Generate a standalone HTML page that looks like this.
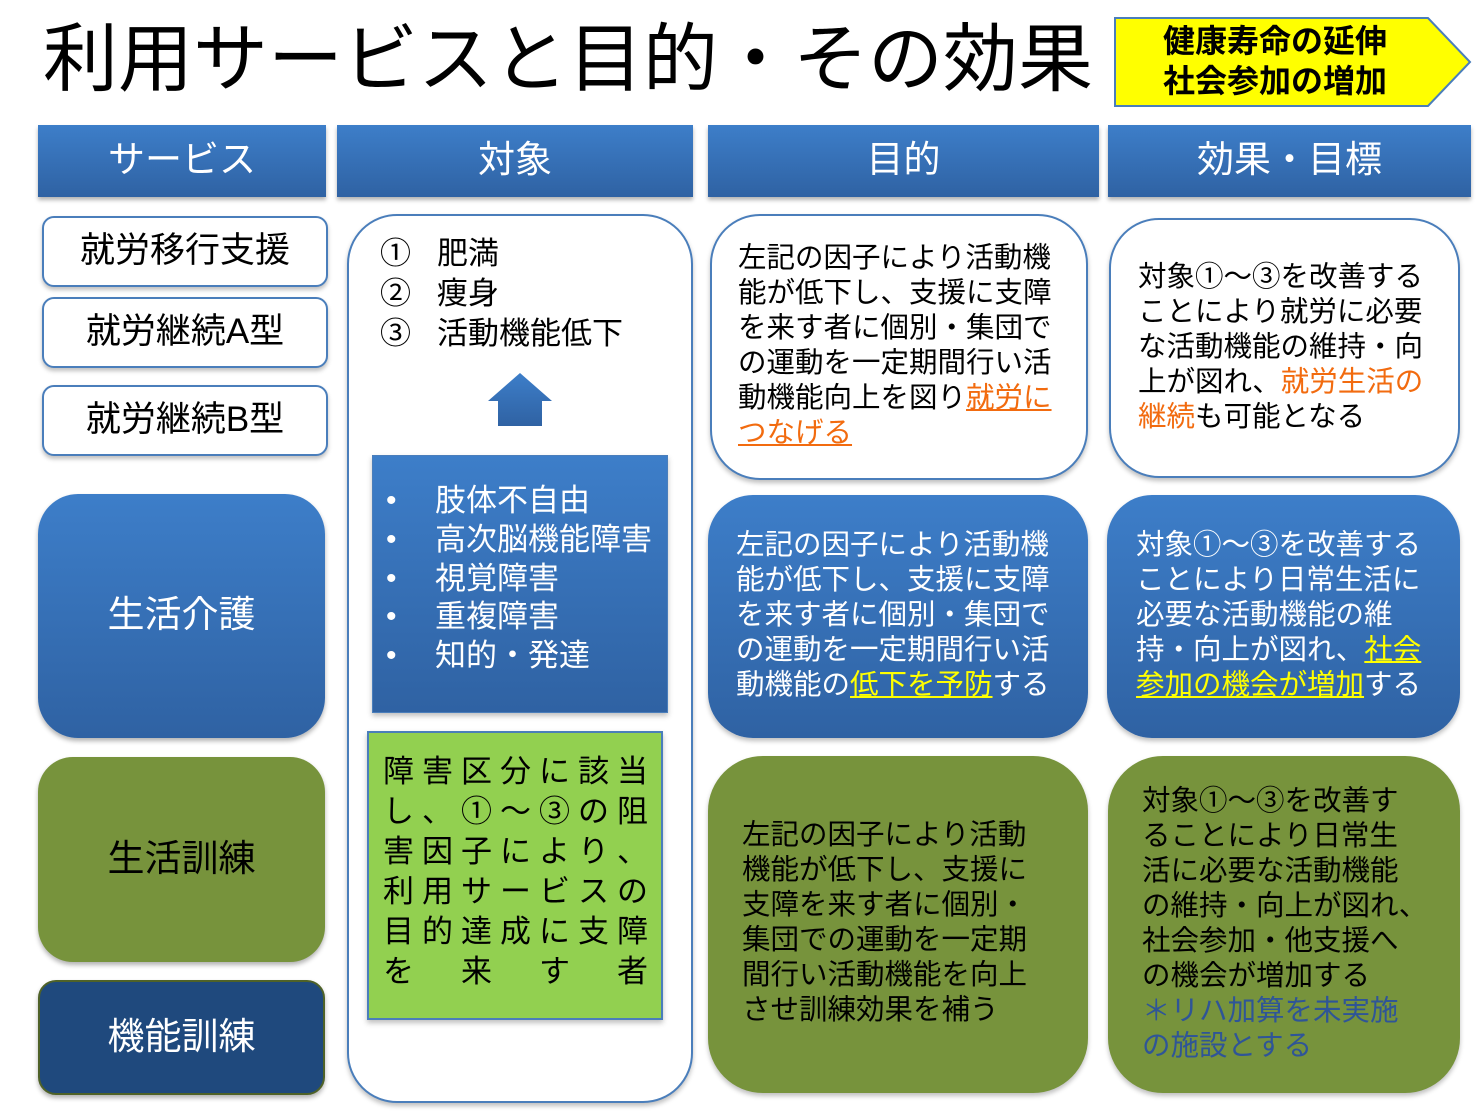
<!DOCTYPE html>
<html><head><meta charset="utf-8">
<style>
*{margin:0;padding:0;box-sizing:border-box}
body{width:1479px;height:1115px;background:#fff;position:relative;overflow:hidden;font-family:"Liberation Sans","Noto Sans CJK JP",sans-serif;}
.a{position:absolute;white-space:nowrap}
.hdr{position:absolute;top:125px;height:72px;background:linear-gradient(#3d7ec9,#2f62a3);color:#fff;font-size:37px;display:flex;align-items:center;justify-content:center;padding-bottom:10px;box-shadow:0 3px 4px rgba(0,0,0,.3)}
.svc{position:absolute;left:42px;width:286px;height:71px;border:2px solid #4a7ebb;border-radius:12px;background:#fff;font-size:35px;display:flex;align-items:center;justify-content:center;padding-bottom:8px;box-shadow:0 3px 4px rgba(0,0,0,.25)}
.big{position:absolute;display:flex;align-items:center;justify-content:center;font-size:37px;padding-bottom:10px;box-shadow:0 3px 5px rgba(0,0,0,.3)}
.box{position:absolute;box-shadow:0 3px 5px rgba(0,0,0,.25)}
.t{position:absolute;font-size:28px;line-height:35px;white-space:nowrap}
.row{position:absolute;left:383px;width:265px;display:flex;justify-content:space-between;font-size:31px;line-height:40px}
.o{color:#f26b0f;text-decoration:underline}
.y{color:#ffff00;text-decoration:underline}
</style></head><body>
<div class="a" style="left:43px;top:14px;font-size:75px;line-height:90px;">利用サービスと目的・その効果</div>
<svg class="a" style="left:1110px;top:14px" width="369" height="98">
<polygon points="5,4 318,4 360,48 318,92 5,92" fill="#ffff00" stroke="#4a7ebb" stroke-width="2"/>
</svg>
<div class="a" style="left:1163px;top:21px;font-size:32px;line-height:40px;font-weight:bold;">健康寿命の延伸<br>社会参加の増加</div>

<div class="hdr" style="left:38px;width:288px">サービス</div>
<div class="hdr" style="left:337px;width:356px">対象</div>
<div class="hdr" style="left:708px;width:391px">目的</div>
<div class="hdr" style="left:1108px;width:363px">効果・目標</div>

<div class="svc" style="top:216px">就労移行支援</div>
<div class="svc" style="top:297px">就労継続A型</div>
<div class="svc" style="top:385px">就労継続B型</div>

<div class="big" style="left:38px;top:494px;width:287px;height:244px;border-radius:40px;background:linear-gradient(#3d7ec9,#2f62a3);color:#fff">生活介護</div>
<div class="big" style="left:38px;top:757px;width:287px;height:205px;border-radius:35px;background:#77933c;color:#000">生活訓練</div>
<div class="big" style="left:38px;top:980px;width:287px;height:115px;border-radius:18px;background:#1f497d;color:#fff;border:2px solid #4f6228">機能訓練</div>

<div class="box" style="left:347px;top:214px;width:346px;height:889px;border:2px solid #4a7ebb;border-radius:50px;background:#fff"></div>
<div class="t" style="left:380px;top:234px;font-size:31px;line-height:40px">①<br>②<br>③</div>
<div class="t" style="left:437px;top:234px;font-size:31px;line-height:40px">肥満<br>痩身<br>活動機能低下</div>
<svg class="a" style="left:486px;top:371px" width="68" height="58">
<defs><linearGradient id="g" x1="0" y1="0" x2="0" y2="1"><stop offset="0" stop-color="#3d7ec9"/><stop offset="1" stop-color="#2f62a3"/></linearGradient></defs>
<polygon points="34,2 66,30 56,30 56,55 12,55 12,30 2,30" fill="url(#g)"/>
</svg>
<div class="box" style="left:372px;top:455px;width:296px;height:258px;background:linear-gradient(#3d7ec9,#2f62a3);border:1px solid #4a7ebb"></div>
<div class="t" style="left:386px;top:482px;font-size:30px;line-height:38.8px;color:#fff">•<br>•<br>•<br>•<br>•</div>
<div class="t" style="left:435px;top:482px;font-size:31px;line-height:38.8px;color:#fff">肢体不自由<br>高次脳機能障害<br>視覚障害<br>重複障害<br>知的・発達</div>

<div class="box" style="left:367px;top:731px;width:296px;height:289px;background:#92d050;border:2px solid #4a7ebb"></div>
<div class="row" style="top:752px"><span>障</span><span>害</span><span>区</span><span>分</span><span>に</span><span>該</span><span>当</span></div>
<div class="row" style="top:792px"><span>し</span><span>、</span><span>①</span><span>～</span><span>③</span><span>の</span><span>阻</span></div>
<div class="row" style="top:832px"><span>害</span><span>因</span><span>子</span><span>に</span><span>よ</span><span>り</span><span>、</span></div>
<div class="row" style="top:872px"><span>利</span><span>用</span><span>サ</span><span>ー</span><span>ビ</span><span>ス</span><span>の</span></div>
<div class="row" style="top:912px"><span>目</span><span>的</span><span>達</span><span>成</span><span>に</span><span>支</span><span>障</span></div>
<div class="row" style="top:952px"><span>を</span><span>来</span><span>す</span><span>者</span></div>

<div class="box" style="left:710px;top:214px;width:378px;height:266px;border:2px solid #4a7ebb;border-radius:50px;background:#fff"></div>
<div class="t" style="left:738px;top:241px;font-size:28.5px">左記の因子により活動機<br>能が低下し、支援に支障<br>を来す者に個別・集団で<br>の運動を一定期間行い活<br>動機能向上を図り<span class="o">就労に</span><br><span class="o">つなげる</span></div>

<div class="box" style="left:1109px;top:218px;width:351px;height:260px;border:2px solid #4a7ebb;border-radius:50px;background:#fff"></div>
<div class="t" style="left:1138px;top:260px;font-size:28.5px">対象①～③を改善する<br>ことにより就労に必要<br>な活動機能の維持・向<br>上が図れ、<span style="color:#f26b0f">就労生活の</span><br><span style="color:#f26b0f">継続</span>も可能となる</div>

<div class="box" style="left:708px;top:495px;width:380px;height:243px;border-radius:45px;background:linear-gradient(#3d7ec9,#2f62a3)"></div>
<div class="t" style="left:736px;top:528px;font-size:28.5px;color:#fff">左記の因子により活動機<br>能が低下し、支援に支障<br>を来す者に個別・集団で<br>の運動を一定期間行い活<br>動機能の<span class="y">低下を予防</span>する</div>

<div class="box" style="left:1107px;top:495px;width:353px;height:243px;border-radius:45px;background:linear-gradient(#3d7ec9,#2f62a3)"></div>
<div class="t" style="left:1136px;top:528px;font-size:28.5px;color:#fff">対象①～③を改善する<br>ことにより日常生活に<br>必要な活動機能の維<br>持・向上が図れ、<span class="y">社会</span><br><span class="y">参加の機会が増加</span>する</div>

<div class="box" style="left:708px;top:756px;width:380px;height:337px;border-radius:55px;background:#77933c"></div>
<div class="t" style="left:742px;top:818px;font-size:28.5px">左記の因子により活動<br>機能が低下し、支援に<br>支障を来す者に個別・<br>集団での運動を一定期<br>間行い活動機能を向上<br>させ訓練効果を補う</div>

<div class="box" style="left:1108px;top:756px;width:352px;height:337px;border-radius:55px;background:#77933c"></div>
<div class="t" style="left:1142px;top:784px;font-size:28.5px">対象①～③を改善す<br>ることにより日常生<br>活に必要な活動機能<br>の維持・向上が図れ、<br>社会参加・他支援へ<br>の機会が増加する<br><span style="color:#2f5597">＊リハ加算を未実施</span><br><span style="color:#2f5597">の施設とする</span></div>
</body></html>
